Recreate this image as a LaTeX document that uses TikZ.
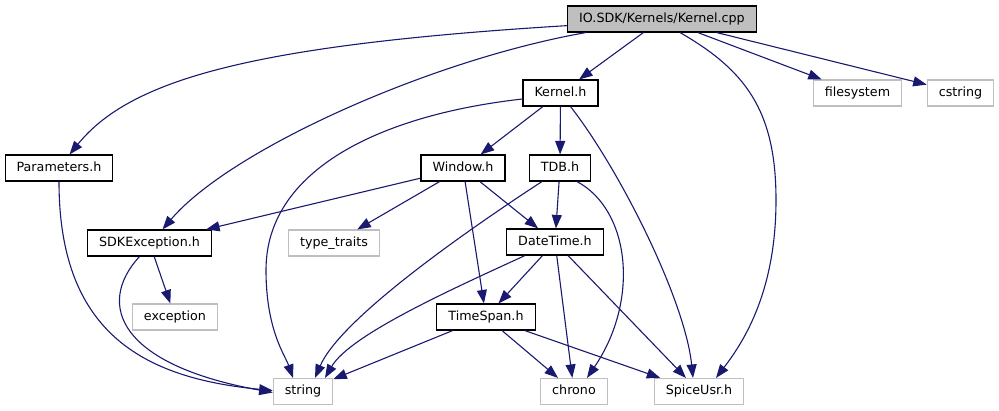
\documentclass[tikz,border=0pt]{standalone}
\usepackage{fontspec}
\setmainfont{DejaVu Sans}
\usetikzlibrary{arrows.meta}
\definecolor{edgeblue}{RGB}{25,25,112}
\definecolor{extgray}{RGB}{191,191,191}

\begin{document}
\begin{tikzpicture}[
  x=1pt, y=-1pt,
  file/.style={rectangle, draw=black, line width=1.1pt, inner xsep=11.5pt, inner ysep=0pt,
               minimum height=26pt, text height=9.3pt, text depth=2.6pt,
               font=\fontsize{12.7}{15}\selectfont},
  root/.style={file, fill=extgray},
  sys/.style={file, draw=extgray},
  arr/.style={-{Triangle[length=13.5pt,width=10pt]}, line width=1.1pt, color=edgeblue}
]
  \useasboundingbox (0,0) rectangle (999,411);
  \node[root] (cpp)      at (662,19)    {IO.SDK/Kernels/Kernel.cpp};
  \node[file] (kernelh)  at (560.5,93)  {Kernel.h};
  \node[sys]  (filesys)  at (857.5,93)  {filesystem};
  \node[sys]  (cstr)     at (960.5,93)  {cstring};
  \node[file] (params)   at (59,168)    {Parameters.h};
  \node[file] (window)   at (463,168)   {Window.h};
  \node[file] (tdb)      at (560,168)   {TDB.h};
  \node[file] (sdkexc)   at (149.5,243) {SDKException.h};
  \node[sys]  (typetr)   at (334,243)   {type\_traits};
  \node[file] (datetime) at (555,242)   {DateTime.h};
  \node[sys]  (except)   at (175,317)   {exception};
  \node[file] (timespan) at (486,317)   {TimeSpan.h};
  \node[sys]  (str)      at (303,391.5) {string};
  \node[sys]  (chrono)   at (574,391.5) {chrono};
  \node[sys]  (spice)    at (699,391.5) {SpiceUsr.h};
  \draw[arr] (cpp) -- (kernelh);
  \draw[arr] (cpp) -- (filesys);
  \draw[arr] (cpp) -- (cstr);
  \draw[arr] (cpp.184) .. controls (250,45) and (130,80) .. (params.52);
  \draw[arr] ([xshift=-76]cpp.south) .. controls (430,60) and (230,150) .. ([xshift=13]sdkexc.north);
  \draw[arr] ([xshift=18]cpp.south) .. controls (745,70) and (776,110) .. (776,200)
    .. controls (776,290) and (745,340) .. ([xshift=17]spice.north);
  \draw[arr] (kernelh) -- (window);
  \draw[arr] (kernelh) -- (tdb);
  \draw[arr] ([yshift=-6]kernelh.west) .. controls (380,115) and (266,170) .. (266,270)
    .. controls (266,330) and (285,355) .. ([xshift=-10]str.north);
  \draw[arr] ([xshift=10]kernelh.south) .. controls (620,170) and (685,300) .. ([xshift=-6]spice.north);
  \draw[arr] (params.south) .. controls (59,330) and (140,378) .. ([yshift=1]str.west);
  \draw[arr] (window) -- (sdkexc);
  \draw[arr] (window) -- (typetr);
  \draw[arr] (window) -- (datetime);
  \draw[arr] (window) -- (timespan);
  \draw[arr] (tdb) -- (datetime);
  \draw[arr] ([xshift=-18]tdb.south) .. controls (460,235) and (340,320) .. ([xshift=12]str.north);
  \draw[arr] ([xshift=17]tdb.south) .. controls (630,210) and (640,300) .. ([xshift=13]chrono.north);
  \draw[arr] (sdkexc) -- (except);
  \draw[arr] ([xshift=-10]sdkexc.south) .. controls (95,305) and (120,365) .. ([yshift=-1]str.west);
  \draw[arr] (datetime) -- (timespan);
  \draw[arr] (datetime) -- (chrono);
  \draw[arr] (datetime) -- (spice);
  \draw[arr] ([xshift=-30]datetime.south) .. controls (450,290) and (350,335) .. ([xshift=22]str.north);
  \draw[arr] (timespan) -- (str);
  \draw[arr] (timespan) -- (chrono);
  \draw[arr] (timespan) -- (spice);
\end{tikzpicture}
\end{document}
